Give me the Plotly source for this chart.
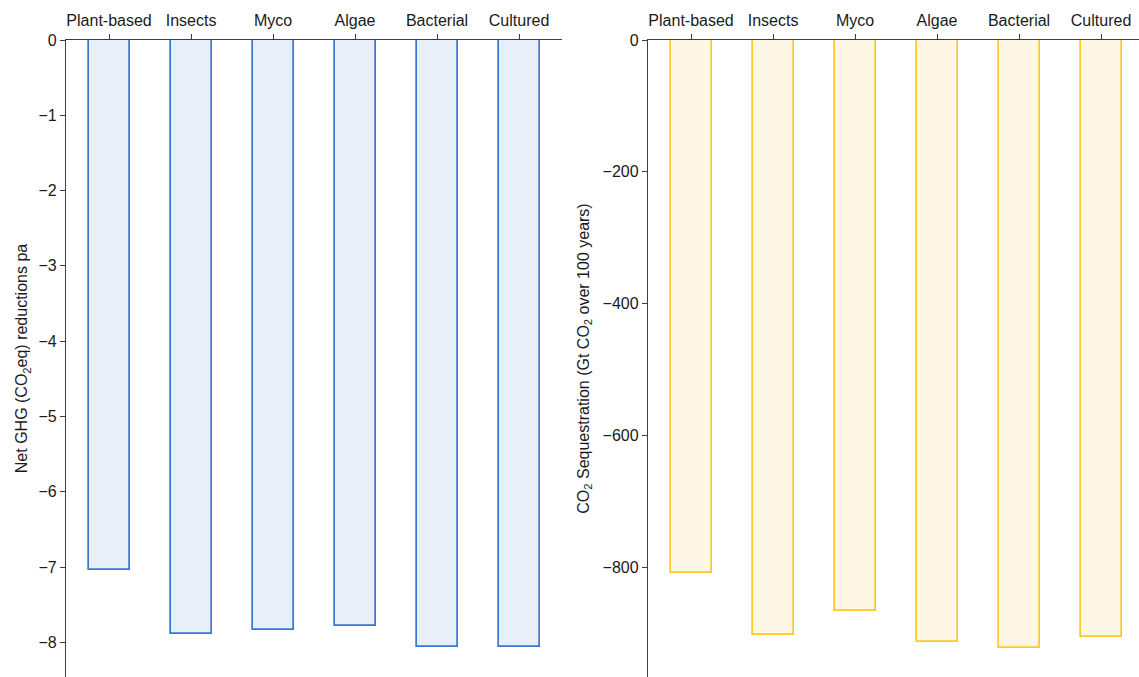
import plotly.graph_objects as go

# Alternative protein categories
categories = ["Plant-based", "Insects", "Myco", "Algae", "Bacterial", "Cultured"]

# Net GHG reductions per annum (CO2eq)
ghg_reduction = [-7.04, -7.89, -7.83, -7.78, -8.06, -8.06]

# CO2 sequestration over 100 years (Gt CO2)
co2_sequestration = [-808, -902, -866, -913, -922, -906]

W, H = 1139, 677
FONT = "Liberation Sans, Arial, sans-serif"
AXIS_COLOR = "#3d3d3d"
TEXT_COLOR = "#1a1a1a"
FS = 16

fig = go.Figure()

fig.add_trace(go.Bar(
    x=list(range(len(categories))), y=ghg_reduction, width=0.5,
    marker=dict(color="#e8eff9", line=dict(color="#3678d2", width=1.7)),
    xaxis="x", yaxis="y", showlegend=False,
))
fig.add_trace(go.Bar(
    x=list(range(len(categories))), y=co2_sequestration, width=0.5,
    marker=dict(color="#fff7e6", line=dict(color="#ffc72c", width=1.7)),
    xaxis="x2", yaxis="y2", showlegend=False,
))

top = (H - 40) / H
left_dom = [66 / W, 562 / W]
right_dom = [648 / W, 1.0]
step = 82.0

common_x = dict(
    side="top", showline=True, linecolor=AXIS_COLOR, linewidth=1.3,
    ticks="outside", ticklen=5, tickwidth=1.2, tickcolor=AXIS_COLOR,
    tickmode="array", tickvals=list(range(len(categories))), ticktext=categories,
    showgrid=False, zeroline=False, automargin=False, ticklabelstandoff=1,
    tickfont=dict(family=FONT, size=FS, color=TEXT_COLOR),
)
common_y = dict(
    showline=True, linecolor=AXIS_COLOR, linewidth=1.3,
    ticks="outside", ticklen=5, tickwidth=1.2, tickcolor=AXIS_COLOR,
    showgrid=False, zeroline=False, automargin=False,
    tickfont=dict(family=FONT, size=FS, color=TEXT_COLOR),
)

fig.update_layout(
    width=W, height=H,
    margin=dict(l=0, r=0, t=0, b=0),
    plot_bgcolor="white", paper_bgcolor="white",
    font=dict(family=FONT, size=FS, color=TEXT_COLOR),
    bargap=0,
    xaxis=dict(domain=left_dom, anchor="y",
               range=[-0.525, -0.525 + (562 - 66) / step], **common_x),
    yaxis=dict(domain=[0, top], anchor="x", range=[-8.46, 0], dtick=1,
               title=dict(text="Net GHG (CO<sub>2</sub>eq) reductions pa",
                          font=dict(family=FONT, size=FS, color=TEXT_COLOR), standoff=6),
               **common_y),
    xaxis2=dict(domain=right_dom, anchor="y2",
                range=[-0.525, -0.525 + (W - 648) / step], **common_x),
    yaxis2=dict(domain=[0, top], anchor="x2", range=[-966, 0], dtick=200,
                title=dict(text="CO<sub>2</sub> Sequestration (Gt CO<sub>2</sub> over 100 years)",
                           font=dict(family=FONT, size=FS, color=TEXT_COLOR), standoff=9),
                **common_y),
)

fig.write_html("out.html")
